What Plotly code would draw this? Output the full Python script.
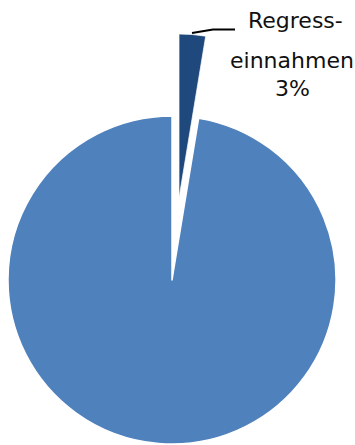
import plotly.graph_objects as go

labels = ["Regresseinnahmen", "Übrige"]
values = [2.6, 97.4]
colors = ["#1F497D", "#4F81BD"]
label_lines = ["Regress-", "einnahmen"]

W, H = 355, 445
total = sum(values)
pct = f"{round(100 * values[0] / total)}%"

def px_dom(cx, cy, r):
    return dict(x=[(cx - r) / W, (cx + r) / W], y=[1 - (cy + r) / H, 1 - (cy - r) / H])

fig = go.Figure()
# main pie (big slice), small slice hidden
fig.add_trace(go.Pie(
    labels=labels, values=values, sort=False, direction="clockwise", rotation=0,
    marker=dict(colors=["rgba(0,0,0,0)", colors[1]],
                line=dict(color="white", width=[0, 1.5])),
    textinfo="none", hoverinfo="label+percent", showlegend=False,
    domain=px_dom(172, 280, 164),
))
# exploded small slice
fig.add_trace(go.Pie(
    labels=labels, values=values, sort=False, direction="clockwise", rotation=0,
    marker=dict(colors=[colors[0], "rgba(0,0,0,0)"],
                line=dict(color="rgba(255,255,255,0.7)", width=[1, 0])),
    textinfo="none", hoverinfo="label+percent", showlegend=False,
    domain=px_dom(179, 198, 164),
))

font = dict(family="DejaVu Sans", size=22, color="#111111")
for txt, cx, cy in [(label_lines[0], 295, 21), (label_lines[1], 292, 60), (pct, 292, 89)]:
    fig.add_annotation(text=txt, x=cx / W, y=1 - cy / H, xref="paper", yref="paper",
                       xanchor="center", yanchor="middle", showarrow=False, font=font)

pts = [(192, 33), (213, 29.5), (235, 29.5)]
path = "M " + " L ".join(f"{x / W},{1 - y / H}" for x, y in pts)
fig.add_shape(type="path", path=path, xref="paper", yref="paper",
              line=dict(color="black", width=2))

fig.update_layout(width=W, height=H, margin=dict(l=0, r=0, t=0, b=0),
                  paper_bgcolor="white", plot_bgcolor="white")
fig.write_html("out.html", config={"displayModeBar": False},
               post_script="document.body.style.margin='0';")
